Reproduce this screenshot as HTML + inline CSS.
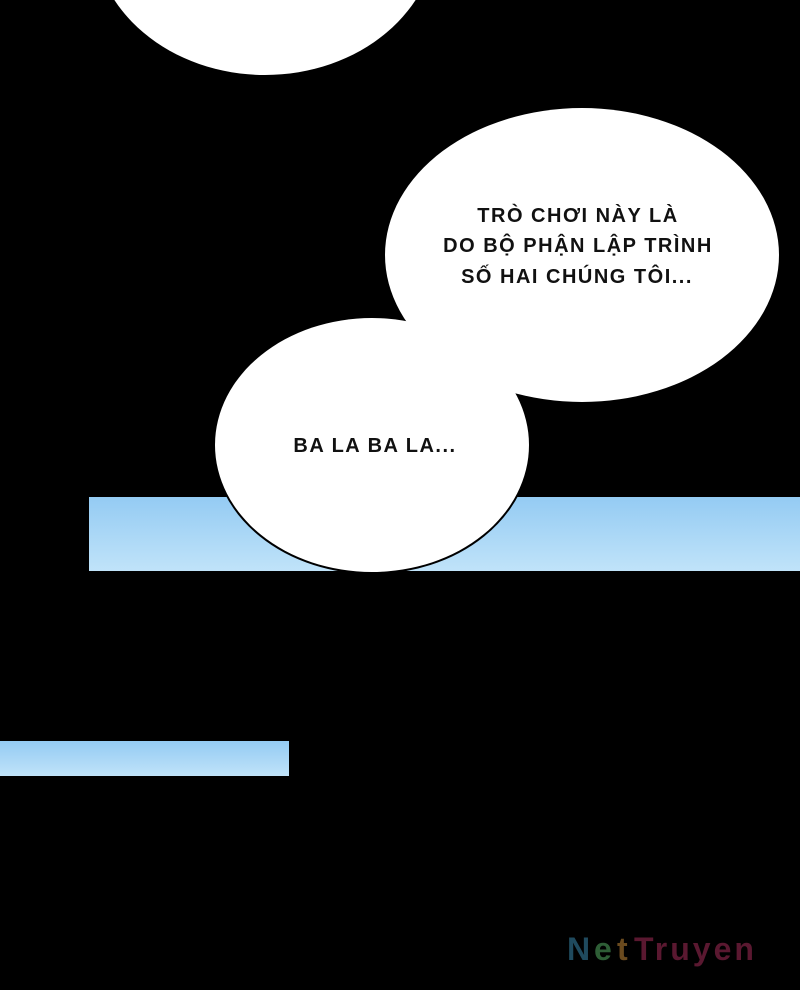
<!DOCTYPE html>
<html><head><meta charset="utf-8"><style>
html,body{margin:0;padding:0;background:#000;}
body{width:800px;height:990px;overflow:hidden;position:relative;}
svg{position:absolute;left:0;top:0;}
</style></head><body>
<svg width="800" height="990" viewBox="0 0 800 990">
<defs>
<linearGradient id="b1" x1="0" y1="0" x2="0" y2="1">
<stop offset="0" stop-color="#94cbf3"/><stop offset="1" stop-color="#c0e3f9"/>
</linearGradient>
</defs>
<rect width="800" height="990" fill="#000"/>
<rect x="89" y="497" width="711" height="74" fill="url(#b1)"/>
<rect x="0" y="741" width="289" height="35" fill="url(#b1)"/>
<ellipse cx="265" cy="-70" rx="172" ry="145" fill="#fff"/>
<ellipse cx="582" cy="255" rx="197" ry="147" fill="#fff" stroke="#000" stroke-width="4"/>
<ellipse cx="372" cy="445" rx="157" ry="127" fill="#fff" stroke="#000" stroke-width="4"/>
<ellipse cx="582" cy="255" rx="197" ry="147" fill="#fff"/>
<ellipse cx="372" cy="445" rx="157" ry="127" fill="#fff"/>
<g font-family="Liberation Sans, sans-serif" font-size="20" font-weight="bold" fill="#111" text-anchor="middle" letter-spacing="1.5">
<text x="578" y="222">TRÒ CHƠI NÀY LÀ</text>
<text x="578" y="252">DO BỘ PHẬN LẬP TRÌNH</text>
<text x="577" y="283">SỐ HAI CHÚNG TÔI...</text>
<text x="375" y="452">BA LA BA LA...</text>
</g>
<g font-family="Liberation Sans, sans-serif" font-size="32" font-weight="bold" letter-spacing="3">
<text x="567" y="960" fill="#1f4a5e">N</text>
<text x="594" y="960" fill="#2e5e36">e</text>
<text x="617" y="960" fill="#6a4a1e">t</text>
<text x="634" y="960" fill="#5a1830">Truyen</text>
</g>
</svg>
</body></html>
